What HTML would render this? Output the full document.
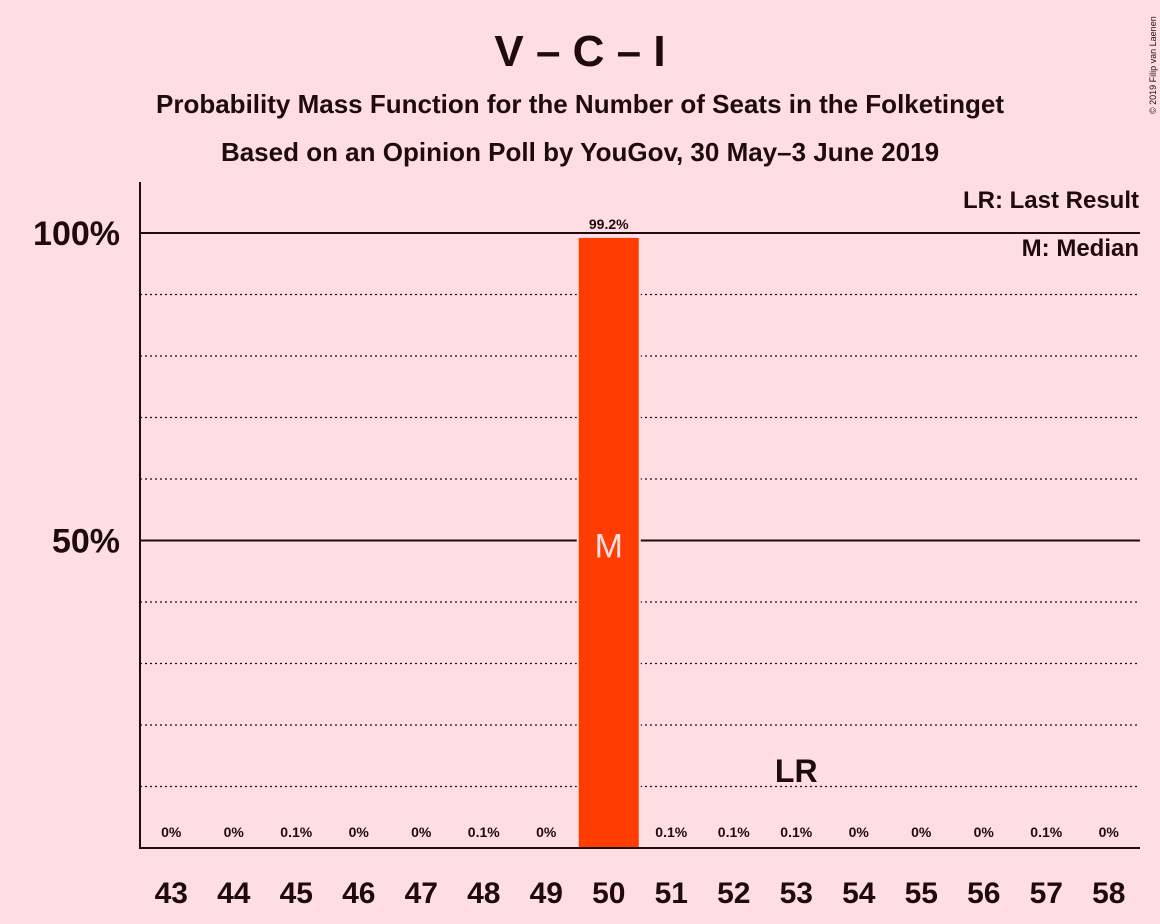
<!DOCTYPE html>
<html><head><meta charset="utf-8"><style>
body{margin:0;background:#FFDEE3;}
svg{display:block;font-family:"Liberation Sans",sans-serif;font-weight:bold;}
</style></head><body>
<svg width="1160" height="924" viewBox="0 0 1160 924" xmlns="http://www.w3.org/2000/svg">
<rect width="1160" height="924" fill="#FFDEE3"/>
<text x="580" y="66" text-anchor="middle" font-size="44" fill="#1e0c0c">V – C – I</text>
<text x="580" y="113" text-anchor="middle" font-size="26" fill="#1e0c0c">Probability Mass Function for the Number of Seats in the Folketinget</text>
<text x="580" y="161" text-anchor="middle" font-size="26" fill="#1e0c0c">Based on an Opinion Poll by YouGov, 30 May–3 June 2019</text>
<text transform="translate(1156,114) rotate(-90)" font-size="9" font-weight="normal" fill="#1e0c0c">© 2019 Filip van Laenen</text>
<g id="grid"></g>
<g id="bars"></g>
<g id="labels"></g>
<line x1="140" y1="182" x2="140" y2="848" stroke="#1e0c0c" stroke-width="2"/>
<line x1="139" y1="848" x2="1140" y2="848" stroke="#1e0c0c" stroke-width="2"/>
<text x="1139" y="208" text-anchor="end" font-size="24" fill="#1e0c0c">LR: Last Result</text>
<text x="1139" y="256" text-anchor="end" font-size="24" fill="#1e0c0c">M: Median</text>
</svg>
<script>
const seats=[43,44,45,46,47,48,49,50,51,52,53,54,55,56,57,58];
const probs=[0,0,0.1,0,0,0.1,0,99.2,0.1,0.1,0.1,0,0,0,0.1,0];
const valueLabels=["0%","0%","0.1%","0%","0%","0.1%","0%","99.2%","0.1%","0.1%","0.1%","0%","0%","0%","0.1%","0%"];
const yTicks=[50,100];
const yGrid=[10,20,30,40,60,70,80,90];
const medianSeat=50, lastResultSeat=53;
const NS="http://www.w3.org/2000/svg";
const x0=140,band=62.5,y0=848,pxPer=6.15;
const xc=i=>x0+band*(i+0.5);
const y=v=>y0-v*pxPer;
function mk(tag,attrs,parent,txt){const e=document.createElementNS(NS,tag);for(const k in attrs)e.setAttribute(k,attrs[k]);if(txt!==undefined)e.textContent=txt;parent.appendChild(e);return e;}
const grid=document.getElementById('grid'),bars=document.getElementById('bars'),labels=document.getElementById('labels');
yGrid.forEach(v=>{const l=mk('line',{x1:140,x2:1140,y1:y(v),y2:y(v),stroke:'#1e0c0c','stroke-width':1.2,'stroke-dasharray':'2,3'},grid);

});
yTicks.forEach(v=>{const l=mk('line',{x1:140,x2:1140,y1:y(v),y2:y(v),stroke:'#1e0c0c','stroke-width':2},grid);


const t=mk('text',{x:120,y:y(v)+12,'text-anchor':'end','font-size':34,fill:'#1e0c0c'},labels,v+'%');

});
seats.forEach((s,i)=>{
const cx=xc(i);
if(probs[i]>0.5){const r=mk('rect',{x:cx-30,y:y(probs[i]),width:60,height:y0-y(probs[i]),fill:'#FF3D00',stroke:'#FFDEE3','stroke-width':4,'paint-order':'stroke'},bars);

}
const vl=mk('text',{x:cx,y:probs[i]>0.5?y(probs[i])-9:837,'text-anchor':'middle','font-size':14,fill:'#1e0c0c'},labels,valueLabels[i]);


const xt=mk('text',{x:cx,y:903,'text-anchor':'middle','font-size':30,fill:'#1e0c0c'},labels,String(s));


if(s===medianSeat){const m=mk('text',{x:cx,y:y(50)+17,'text-anchor':'middle','font-size':34,'font-weight':'normal',fill:'#FFDEE3'},labels,'M');

}
if(s===lastResultSeat){const lr=mk('text',{x:cx,y:782,'text-anchor':'middle','font-size':32,fill:'#1e0c0c'},labels,'LR');

}
});
</script>
</body></html>
